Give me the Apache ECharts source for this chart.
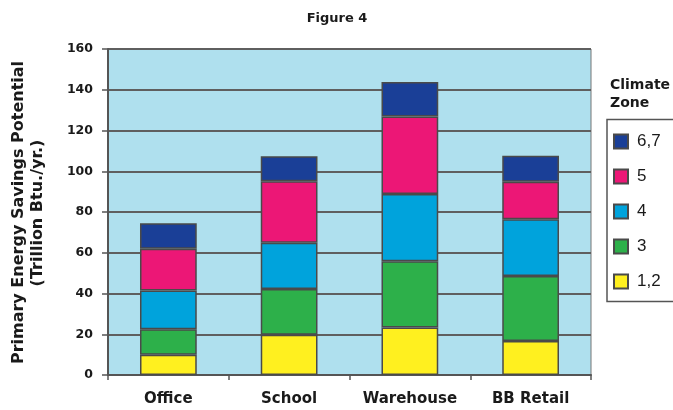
<!DOCTYPE html>
<html>
<head>
<meta charset="utf-8">
<script src="https://cdn.jsdelivr.net/npm/echarts@6/dist/echarts.min.js"></script>
<style>html,body{margin:0;padding:0;background:#fff}#c{width:673px;height:410px}</style>
</head>
<body>
<div id="c"></div>
<script>
const categories = ['Office', 'School', 'Warehouse', 'BB Retail'];
const zone12 = [10, 19.7, 23.3, 16.7];
const zone3 = [12.5, 22.5, 32.5, 31.9];
const zone4 = [19, 22.7, 33, 27.9];
const zone5 = [20.5, 30.2, 38.1, 18.4];
const zone67 = [12.5, 12.3, 16.9, 12.7];
const seriesNames = ['1,2', '3', '4', '5', '6,7'];
const legendOrder = ['6,7', '5', '4', '3', '1,2'];
const colors = ['#fff01f', '#2db04a', '#00a3dc', '#ec1776', '#1a3f97'];
const yTicks = { min: 0, max: 160, interval: 20 };

const BOLD = 'DejaVu Sans';
const chart = echarts.init(document.getElementById('c'), null, { renderer: 'canvas' });
const values = [zone12, zone3, zone4, zone5, zone67];

chart.setOption({
  animation: false,
  title: {
    text: 'Figure 4',
    left: 332, top: 7, textAlign: 'center',
    textStyle: { fontFamily: BOLD, fontWeight: 'bold', fontSize: 13, color: '#1a1a1a' }
  },
  grid: {
    left: 108, right: 82, top: 49, bottom: 35,
    show: true, backgroundColor: '#afe0ee', borderColor: '#777', borderWidth: 1
  },
  legend: {
    orient: 'vertical',
    left: 607, top: 119,
    padding: [14, 10, 11.5, 6],
    z: 10,
    itemWidth: 14, itemHeight: 14, itemGap: 18,
    data: legendOrder,
    icon: 'rect',
    textStyle: { fontFamily: 'Liberation Sans', fontSize: 17, color: '#1a1a1a', padding: [0, 0, 0, 4] }
  },
  graphic: [
    { type: 'rect', z: 1, shape: { x: 607, y: 119.5, width: 120, height: 182 },
      style: { fill: '#fff', stroke: '#555', lineWidth: 1.5 } },
    { type: 'text', x: 19, y: 212.5, rotation: Math.PI / 2,
      style: { text: 'Primary Energy Savings Potential', fontFamily: BOLD, fontWeight: 'bold', fontSize: 16, fill: '#1a1a1a', align: 'center', verticalAlign: 'middle' } },
    { type: 'text', x: 37.5, y: 213, rotation: Math.PI / 2,
      style: { text: '(Trillion Btu./yr.)', fontFamily: BOLD, fontWeight: 'bold', fontSize: 16, fill: '#1a1a1a', align: 'center', verticalAlign: 'middle' } },
    { type: 'text', x: 610, y: 94.5,
      style: { text: 'Climate\nZone', fontFamily: BOLD, fontWeight: 'bold', fontSize: 14, lineHeight: 17.6, fill: '#1a1a1a', align: 'left', verticalAlign: 'middle' } }
  ],
  xAxis: {
    type: 'category',
    data: categories,
    axisLine: { lineStyle: { color: '#555', width: 2 } },
    axisTick: { show: true, length: 5, lineStyle: { color: '#555', width: 1.5 } },
    axisLabel: { interval: 0, margin: 17, fontFamily: BOLD, fontWeight: 'bold', fontSize: 15, color: '#1a1a1a' }
  },
  yAxis: {
    type: 'value',
    min: yTicks.min, max: yTicks.max, interval: yTicks.interval,
    axisLine: { show: true, lineStyle: { color: '#555', width: 2 } },
    axisTick: { show: true, length: 6, lineStyle: { color: '#555', width: 1.5 } },
    axisLabel: { margin: 15, fontFamily: BOLD, fontWeight: 'bold', fontSize: 12.5, color: '#1a1a1a' },
    splitLine: { show: true, lineStyle: { color: '#5f5f5f', width: 2 } }
  },
  series: seriesNames.map((n, i) => ({
    name: n,
    type: 'bar',
    stack: 'total',
    barWidth: '47%',
    data: values[i],
    itemStyle: { color: colors[i], borderColor: '#4a4a4a', borderWidth: 1.5 }
  }))
});
</script>
</body>
</html>
